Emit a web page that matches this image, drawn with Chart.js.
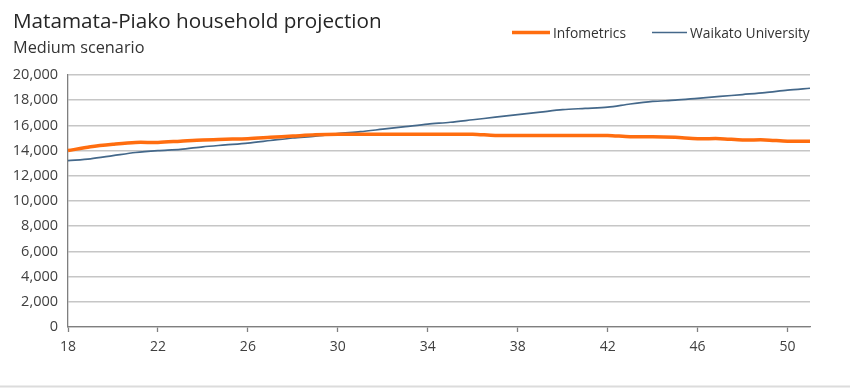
<!DOCTYPE html>
<html>
<head>
<meta charset="utf-8">
<script src="https://cdn.jsdelivr.net/npm/chart.js@4/dist/chart.umd.min.js"></script>
<style>
  html, body { margin: 0; padding: 0; background: #ffffff; }
  #wrap { position: relative; width: 850px; height: 388px; }
</style>
</head>
<body>
<div id="wrap"><canvas id="c" width="850" height="388"></canvas></div>
<script>
// Years (two-digit, 2018–2051)
const years = [18,19,20,21,22,23,24,25,26,27,28,29,30,31,32,33,34,35,36,37,38,39,40,41,42,43,44,45,46,47,48,49,50,51];

// Projected number of households
const infometrics = [14000,14300,14500,14650,14650,14750,14850,14900,14950,15050,15150,15250,15300,15300,15300,15300,15300,15300,15300,15200,15200,15200,15200,15200,15200,15100,15100,15050,14950,14950,14850,14850,14750,14750];
const waikato = [13200,13350,13600,13850,14000,14100,14300,14450,14600,14800,15000,15150,15350,15500,15700,15900,16100,16250,16450,16650,16850,17050,17250,17350,17450,17700,17900,18000,18150,18300,18450,18600,18800,18950];

const yTicks = [0,2000,4000,6000,8000,10000,12000,14000,16000,18000,20000];
const titleText = 'Matamata-Piako household projection';
const subtitleText = 'Medium scenario';
const seriesNames = ['Infometrics', 'Waikato University'];

const ORANGE = '#ff6d0f';
const BLUE = '#44688a';
const FONT = '"Open Sans", "Noto Sans", sans-serif';

// Title, subtitle, legend and bottom rule
const decor = {
  id: 'decor',
  afterDraw(chart) {
    const ctx = chart.ctx;
    ctx.save();
    ctx.textBaseline = 'alphabetic';
    ctx.textAlign = 'left';
    ctx.fillStyle = '#262626';
    ctx.font = '20.7px ' + FONT;
    ctx.fillText(titleText, 13, 28);
    ctx.fillStyle = '#333333';
    ctx.font = '16.3px ' + FONT;
    ctx.fillText(subtitleText, 13, 53);

    // legend
    ctx.font = '13.8px ' + FONT;
    ctx.fillStyle = '#333333';
    ctx.lineCap = 'butt';
    ctx.strokeStyle = ORANGE;
    ctx.lineWidth = 3.5;
    ctx.beginPath(); ctx.moveTo(512, 32.5); ctx.lineTo(550, 32.5); ctx.stroke();
    ctx.fillText(seriesNames[0], 553, 38);
    ctx.strokeStyle = BLUE;
    ctx.lineWidth = 1.6;
    ctx.beginPath(); ctx.moveTo(652, 32.5); ctx.lineTo(687, 32.5); ctx.stroke();
    ctx.fillText(seriesNames[1], 690, 38);

    // bottom rule
    ctx.fillStyle = '#dcdcdc';
    ctx.fillRect(0, 385.5, 850, 2);
    ctx.restore();
  }
};

new Chart(document.getElementById('c'), {
  type: 'line',
  data: {
    labels: years,
    datasets: [
      { label: seriesNames[1], data: waikato, borderColor: BLUE, borderWidth: 1.7, pointRadius: 0, tension: 0.3, fill: false, order: 2 },
      { label: seriesNames[0], data: infometrics, borderColor: ORANGE, borderWidth: 3.5, pointRadius: 0, tension: 0.3, fill: false, order: 1 }
    ]
  },
  options: {
    responsive: false,
    animation: false,
    devicePixelRatio: 1,
    layout: { padding: { top: 75, right: 40, bottom: 0, left: 0 } },
    plugins: { legend: { display: false }, title: { display: false }, tooltip: { enabled: false } },
    scales: {
      x: {
        type: 'category',
        offset: false,
        afterFit(s) { s.height = 61; },
        border: { color: '#7f7f7f', width: 1.3 },
        grid: {
          drawOnChartArea: false,
          tickLength: 5,
          tickColor: (c) => (c.index % 4 === 0 ? '#7f7f7f' : 'rgba(0,0,0,0)'),
          tickWidth: 1.3
        },
        ticks: {
          autoSkip: false,
          maxRotation: 0,
          padding: 7,
          color: '#404040',
          font: { family: FONT, size: 14 },
          callback(v, i) { return i % 4 === 0 ? String(years[i]) : ''; }
        }
      },
      y: {
        min: 0,
        max: 20000,
        afterFit(s) { s.width = 68; },
        afterBuildTicks(s) { s.ticks = yTicks.map(v => ({ value: v })); },
        border: { color: '#7f7f7f', width: 1.3 },
        grid: { color: '#c6c6c6', lineWidth: 1.5, drawTicks: false },
        ticks: {
          padding: 10,
          color: '#404040',
          font: { family: FONT, size: 14.5 },
          callback(v) { return v.toLocaleString('en-US'); }
        }
      }
    }
  },
  plugins: [decor]
});
</script>
</body>
</html>
